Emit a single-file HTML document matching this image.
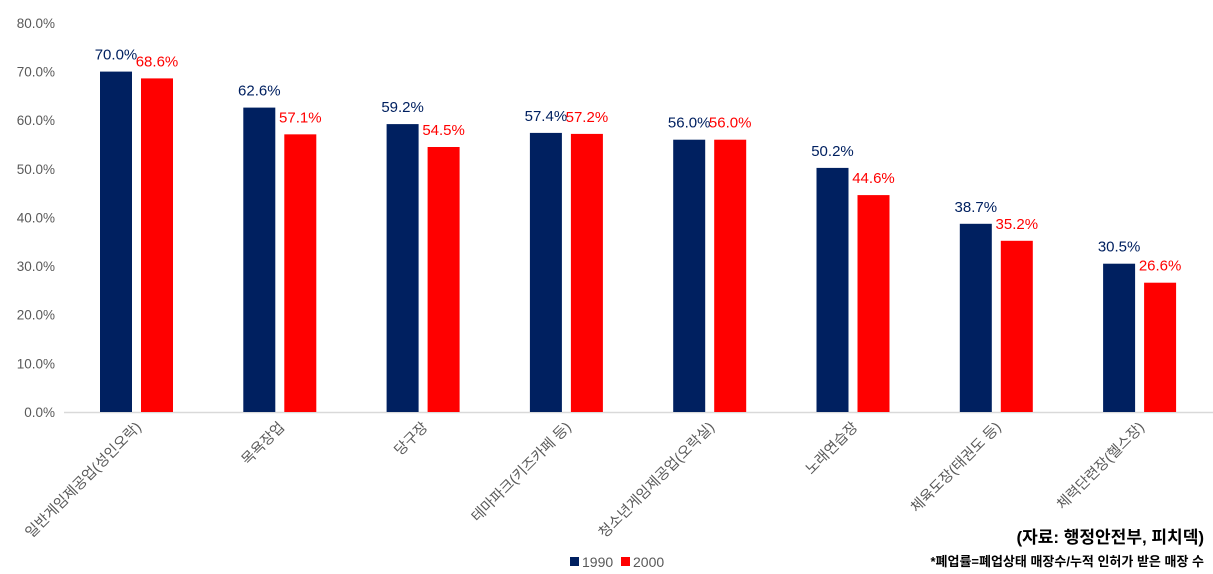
<!DOCTYPE html>
<html><head><meta charset="utf-8"><style>
body{margin:0;background:#fff;}
svg{display:block;font-family:"Liberation Sans","Noto Sans CJK KR",sans-serif;}
</style></head><body>
<svg width="1213" height="574" xmlns="http://www.w3.org/2000/svg">
<g font-size="13.5" fill="#595959" text-anchor="end">
<text x="55" y="417">0.0%</text>
<text x="55" y="368.4">10.0%</text>
<text x="55" y="319.7">20.0%</text>
<text x="55" y="271.1">30.0%</text>
<text x="55" y="222.5">40.0%</text>
<text x="55" y="173.9">50.0%</text>
<text x="55" y="125.2">60.0%</text>
<text x="55" y="76.6">70.0%</text>
<text x="55" y="28">80.0%</text>
</g>
<line x1="64" y1="412.5" x2="1213" y2="412.5" stroke="#d9d9d9" stroke-width="1.5"/>
<g fill="#002060">
<rect x="100" y="71.6" width="32" height="340.4"/>
<rect x="243.3" y="107.6" width="32" height="304.4"/>
<rect x="386.6" y="124.1" width="32" height="287.9"/>
<rect x="529.9" y="132.9" width="32" height="279.1"/>
<rect x="673.2" y="139.7" width="32" height="272.3"/>
<rect x="816.5" y="167.9" width="32" height="244.1"/>
<rect x="959.8" y="223.8" width="32" height="188.2"/>
<rect x="1103.1" y="263.7" width="32" height="148.3"/>
</g>
<g fill="#ff0000">
<rect x="141" y="78.4" width="32" height="333.6"/>
<rect x="284.3" y="134.35" width="32" height="277.65"/>
<rect x="427.6" y="147" width="32" height="265"/>
<rect x="570.9" y="133.9" width="32" height="278.1"/>
<rect x="714.2" y="139.7" width="32" height="272.3"/>
<rect x="857.5" y="195.1" width="32" height="216.9"/>
<rect x="1000.8" y="240.8" width="32" height="171.2"/>
<rect x="1144.1" y="282.7" width="32" height="129.3"/>
</g>
<g font-size="15" text-anchor="middle" fill="#002060">
<text x="116" y="59.6">70.0%</text>
<text x="259.3" y="95.6">62.6%</text>
<text x="402.6" y="112.1">59.2%</text>
<text x="545.9" y="120.9">57.4%</text>
<text x="689.2" y="127.7">56.0%</text>
<text x="832.5" y="155.9">50.2%</text>
<text x="975.8" y="211.8">38.7%</text>
<text x="1119.1" y="251.7">30.5%</text>
</g>
<g font-size="15" text-anchor="middle" fill="#ff0000">
<text x="157" y="66.4">68.6%</text>
<text x="300.3" y="122.35">57.1%</text>
<text x="443.6" y="135">54.5%</text>
<text x="586.9" y="121.9">57.2%</text>
<text x="730.2" y="127.7">56.0%</text>
<text x="873.5" y="183.1">44.6%</text>
<text x="1016.8" y="228.8">35.2%</text>
<text x="1160.1" y="270.7">26.6%</text>
</g>
<g font-size="14.5" text-anchor="end" fill="#595959">
<text transform="translate(142,428) rotate(-45)">일반게임제공업(성인오락)</text>
<text transform="translate(285.3,428) rotate(-45)">목욕장업</text>
<text transform="translate(428.6,428) rotate(-45)">당구장</text>
<text transform="translate(571.9,428) rotate(-45)">테마파크(키즈카페 등)</text>
<text transform="translate(715.2,428) rotate(-45)">청소년게임제공업(오락실)</text>
<text transform="translate(858.5,428) rotate(-45)">노래연습장</text>
<text transform="translate(1001.8,428) rotate(-45)">체육도장(태권도 등)</text>
<text transform="translate(1145.1,428) rotate(-45)">체력단련장(헬스장)</text>
</g>
<text x="1204" y="543" font-size="17" font-weight="bold" text-anchor="end" fill="#000">(자료: 행정안전부, 피치덱)</text>
<text x="1204" y="566" font-size="13" font-weight="bold" text-anchor="end" fill="#000">*폐업률=폐업상태 매장수/누적 인허가 받은 매장 수</text>
<rect x="570" y="557" width="9" height="9" fill="#002060"/>
<text x="582" y="567" font-size="14" fill="#595959">1990</text>
<rect x="621" y="557" width="9" height="9" fill="#ff0000"/>
<text x="633" y="567" font-size="14" fill="#595959">2000</text>
</svg>
</body></html>
